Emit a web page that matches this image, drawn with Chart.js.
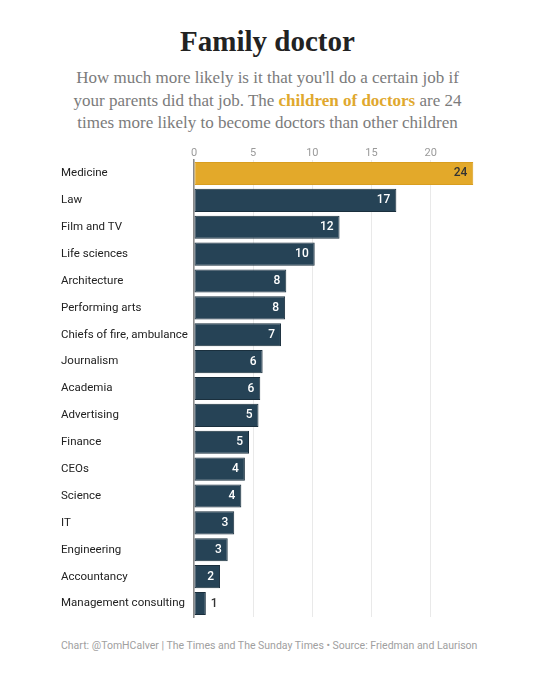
<!DOCTYPE html>
<html>
<head>
<meta charset="utf-8">
<script src="https://cdn.jsdelivr.net/npm/chart.js@4"></script>
<style>
    body { margin: 0; background: #fff; width: 535px; height: 680px; position: relative; overflow: hidden; }
    #title { position: absolute; top: 25px; left: 0; width: 535px; text-align: center;
             font-family: "Liberation Serif", serif; font-weight: bold; font-size: 29px; color: #222; }
    #subtitle { position: absolute; top: 67px; left: 0; width: 535px; text-align: center;
                font-family: "Liberation Serif", serif; font-size: 17px; line-height: 22.5px; color: #7b7b7b; }
    #subtitle b { color: #e0a82e; }
    #wrap { position: absolute; left: 0; top: 140px; width: 535px; height: 490px; }
    #footer { position: absolute; left: 61px; top: 639px; font-family: Roboto, sans-serif;
              font-size: 10.5px; color: #a0a0a0; }
</style>
</head>
<body>
<div id="title">Family doctor</div>
<div id="subtitle">How much more likely is it that you'll do a certain job if<br>your parents did that job. The <b>children of doctors</b> are 24<br>times more likely to become doctors than other children</div>
<div id="wrap"><canvas id="barChart"></canvas></div>
<div id="footer">Chart: @TomHCalver | The Times and The Sunday Times • Source: Friedman and Laurison</div>
<script>
const jobs = ['Medicine', 'Law', 'Film and TV', 'Life sciences', 'Architecture', 'Performing arts',
    'Chiefs of fire, ambulance', 'Journalism', 'Academia', 'Advertising', 'Finance', 'CEOs',
    'Science', 'IT', 'Engineering', 'Accountancy', 'Management consulting'];
const likelihood = [23.6, 17.1, 12.3, 10.2, 7.8, 7.7, 7.35, 5.8, 5.6, 5.45, 4.65, 4.3, 4.0, 3.4, 2.85, 2.2, 1.0];
const xTicks = [0, 5, 10, 15, 20];

const navy = '#264356';
const gold = '#e3a92a';

// values written at the end of each bar
const barLabels = {
    id: 'barLabels',
    afterDatasetsDraw(chart) {
        const ctx = chart.ctx;
        const meta = chart.getDatasetMeta(0);
        ctx.save();
        ctx.font = '500 12px Roboto';
        ctx.textBaseline = 'middle';
        meta.data.forEach((bar, i) => {
            const txt = String(Math.round(likelihood[i]));
            const w = bar.x - bar.base;
            if (w < 22) {
                ctx.textAlign = 'left';
                ctx.fillStyle = '#333';
                ctx.fillText(txt, bar.x + 5, bar.y);
            } else {
                ctx.textAlign = 'right';
                ctx.fillStyle = i === 0 ? '#333' : '#fff';
                ctx.fillText(txt, bar.x - 6, bar.y);
            }
        });
        ctx.restore();
    }
};

window.onload = () => {
    const ctx = document.getElementById('barChart').getContext('2d');
    new Chart(ctx, {
        type: 'bar',
        data: {
            labels: jobs,
            datasets: [{
                data: likelihood,
                backgroundColor: likelihood.map((v, i) => i === 0 ? gold : navy),
                borderColor: likelihood.map((v, i) => i === 0 ? '#d99e1f' : '#1a2f3d'),
                borderWidth: 1,
                borderSkipped: false,
                barPercentage: 0.86,
                categoryPercentage: 1
            }]
        },
        options: {
            indexAxis: 'y',
            responsive: true,
            maintainAspectRatio: false,
            animation: false,
            layout: { padding: { left: 61, right: 57, top: 0, bottom: 13 } },
            plugins: { legend: { display: false }, tooltip: { enabled: false } },
            scales: {
                x: {
                    position: 'top',
                    min: 0,
                    max: 24,
                    afterBuildTicks: (scale) => { scale.ticks = xTicks.map(v => ({ value: v })); },
                    afterFit: (scale) => { scale.height = 20; },
                    grid: { color: '#e9e9e9', drawTicks: false, lineWidth: 1 },
                    border: { display: false },
                    ticks: { color: '#9a9a9a', font: { family: 'Roboto', size: 11 }, padding: 0 }
                },
                y: {
                    afterFit: (scale) => { scale.width = 133; },
                    grid: { display: false, drawTicks: false },
                    border: { display: true, color: '#8a8a8a', width: 1.5 },
                    ticks: { crossAlign: 'far', color: '#222', font: { family: 'Roboto', size: 11.5 }, padding: 0 }
                }
            }
        },
        plugins: [barLabels]
    });
};
</script>
</body>
</html>
